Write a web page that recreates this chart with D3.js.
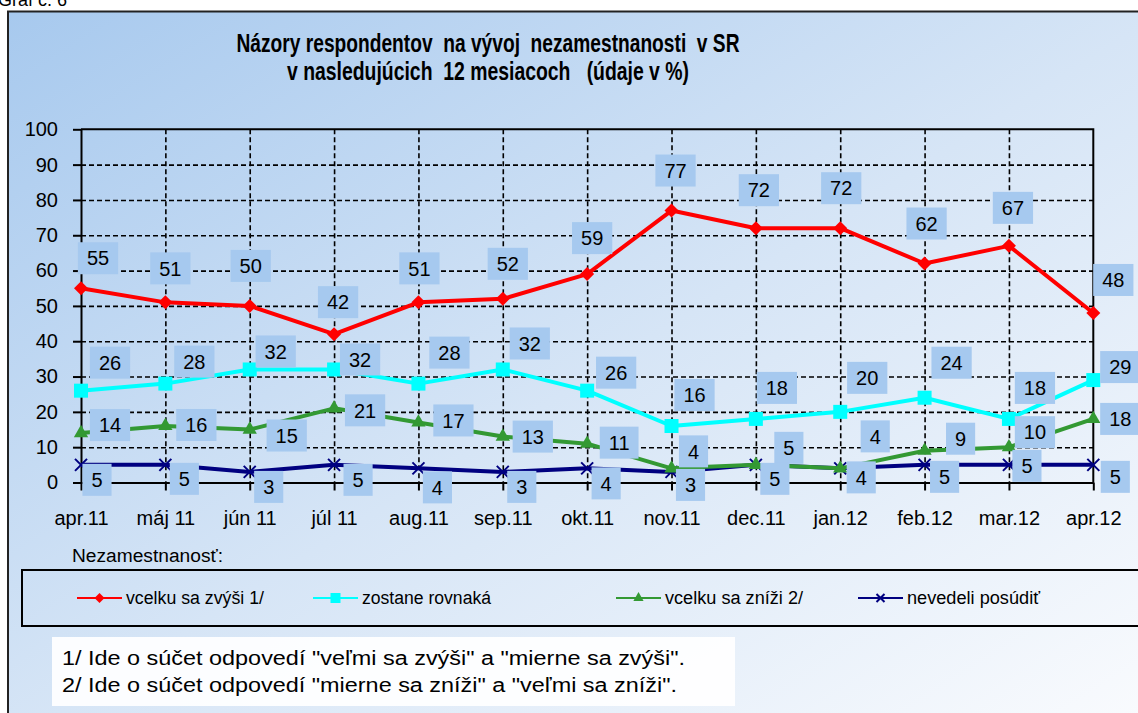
<!DOCTYPE html>
<html lang="sk">
<head>
<meta charset="UTF-8">
<title>Názory respondentov na vývoj nezamestnanosti v SR</title>
<script src="https://d3js.org/d3.v7.min.js"></script>
<style>
  body { margin: 0; background: #fff; }
  svg { display: block; font-family: "Liberation Sans", Arial, sans-serif; }
  text { white-space: pre; }
</style>
</head>
<body>
<svg id="chart" width="1138" height="713"></svg>
<script>
// data
const months = ["apr.11", "máj 11", "jún 11", "júl 11", "aug.11", "sep.11", "okt.11",
                "nov.11", "dec.11", "jan.12", "feb.12", "mar.12", "apr.12"];
const rise   = [55, 51, 50, 42, 51, 52, 59, 77, 72, 72, 62, 67, 48];
const same   = [26, 28, 32, 32, 28, 32, 26, 16, 18, 20, 24, 18, 29];
const fall   = [14, 16, 15, 21, 17, 13, 11, 4, 5, 4, 9, 10, 18];
const unsure = [5, 5, 3, 5, 4, 3, 4, 3, 5, 4, 5, 5, 5];
const yTicks = [0, 10, 20, 30, 40, 50, 60, 70, 80, 90, 100];
const seriesNames = ["vcelku sa zvýši 1/", "zostane rovnaká", "vcelku sa zníži 2/", "nevedeli posúdiť"];

const W = 1138, H = 713;
const svg = d3.select("#chart");

// background gradient
const defs = svg.append("defs");
const grad = defs.append("linearGradient").attr("id", "bg")
    .attr("x1", "0%").attr("y1", "0%").attr("x2", "100%").attr("y2", "100%");
grad.append("stop").attr("offset", "0%").attr("stop-color", "#a7c9ee");
grad.append("stop").attr("offset", "50%").attr("stop-color", "#d6e5f6");
grad.append("stop").attr("offset", "100%").attr("stop-color", "#fbfcfe");

// caption above the frame (mostly cut off, as in the source)
svg.append("text").attr("x", -2).attr("y", 6).attr("font-size", 18).text("Graf č. 6");

svg.append("rect")
    .attr("x", 8).attr("y", 11.5).attr("width", W + 20).attr("height", H + 20)
    .attr("fill", "url(#bg)").attr("stroke", "#222").attr("stroke-width", 2);

// title
svg.append("text").attr("x", 488).attr("y", 52).attr("text-anchor", "middle")
    .attr("font-size", 26).attr("font-weight", "bold")
    .attr("textLength", 503).attr("lengthAdjust", "spacingAndGlyphs")
    .text("Názory respondentov  na vývoj  nezamestnanosti  v SR");
svg.append("text").attr("x", 488).attr("y", 80).attr("text-anchor", "middle")
    .attr("font-size", 26).attr("font-weight", "bold")
    .attr("textLength", 402).attr("lengthAdjust", "spacingAndGlyphs")
    .text("v nasledujúcich  12 mesiacoch   (údaje v %)");

// scales
const x = d3.scalePoint().domain(months).range([81, 1093.3]);
const y = d3.scaleLinear().domain([0, 100]).range([482.5, 129.3]);

const plot = svg.append("g");

// horizontal dashed grid
plot.append("g")
    .attr("transform", "translate(81,0)")
    .call(d3.axisLeft(y).tickValues(yTicks.slice(1, -1)).tickSize(-(1093.3 - 81)).tickFormat(""))
    .call(g => g.select(".domain").remove())
    .call(g => g.selectAll("line").attr("stroke", "#000").attr("stroke-width", 1.6).attr("stroke-dasharray", "5,3"));

// vertical dashed grid
plot.append("g")
    .attr("transform", "translate(0,129.3)")
    .call(d3.axisTop(x).tickValues(months.slice(1, -1)).tickSize(-(482.5 - 129.3)).tickFormat(""))
    .call(g => g.select(".domain").remove())
    .call(g => g.selectAll("line").attr("stroke", "#000").attr("stroke-width", 1.6).attr("stroke-dasharray", "5,3"));

// plot border (top + right)
plot.append("path")
    .attr("d", `M81,${y(100)}H${x("apr.12")}V${y(0)}`)
    .attr("fill", "none").attr("stroke", "#000").attr("stroke-width", 2);

// y axis
const yAxis = plot.append("g")
    .attr("transform", "translate(81,0)")
    .call(d3.axisLeft(y).tickValues(yTicks).tickSize(8).tickPadding(14).tickSizeOuter(0));
yAxis.select(".domain").attr("stroke", "#000").attr("stroke-width", 2);
yAxis.selectAll("line").attr("stroke", "#000").attr("stroke-width", 2).attr("x2", -8);
yAxis.selectAll("text").attr("font-size", 20).attr("fill", "#000")
    .attr("font-family", "'Liberation Sans', Arial, sans-serif").attr("x", -23);

// x axis
const xAxis = plot.append("g")
    .attr("transform", `translate(0,${y(0)})`)
    .call(d3.axisBottom(x).tickSize(8).tickPadding(14).tickSizeOuter(0));
xAxis.select(".domain").attr("stroke", "#000").attr("stroke-width", 2);
xAxis.selectAll("line").attr("stroke", "#000").attr("stroke-width", 2);
xAxis.selectAll("text").attr("font-size", 20).attr("fill", "#000")
    .attr("font-family", "'Liberation Sans', Arial, sans-serif").attr("y", 28);

// series
const series = [
  { name: seriesNames[0], values: rise,   color: "#ff0000", marker: "diamond" },
  { name: seriesNames[1], values: same,   color: "#00ffff", marker: "square" },
  { name: seriesNames[2], values: fall,   color: "#339933", marker: "triangle" },
  { name: seriesNames[3], values: unsure, color: "#000080", marker: "x" }
];

function drawMarker(g, type, color, s) {
  if (type === "diamond") {
    g.append("path").attr("d", d3.symbol(d3.symbolSquare, s * s * 0.5)())
      .attr("transform", "rotate(45)").attr("fill", color);
  } else if (type === "square") {
    g.append("path").attr("d", d3.symbol(d3.symbolSquare, s * s)()).attr("fill", color);
  } else if (type === "triangle") {
    g.append("path").attr("d", d3.symbol(d3.symbolTriangle, s * s * 0.45)()).attr("fill", color);
  } else {
    const r = s / 2;
    g.append("path").attr("d", `M${-r},${-r}L${r},${r}M${-r},${r}L${r},${-r}`)
      .attr("stroke", color).attr("stroke-width", 2).attr("fill", "none");
  }
}

const line = d3.line().x((d, i) => x(months[i])).y(d => y(d));

// draw lines from bottom series up so red stays on top
[...series].reverse().forEach(s => {
  const g = plot.append("g");
  g.append("path").datum(s.values).attr("d", line)
    .attr("fill", "none").attr("stroke", s.color).attr("stroke-width", 4)
    .attr("stroke-linejoin", "round");
  s.values.forEach((v, i) => {
    const m = g.append("g").attr("transform", `translate(${x(months[i])},${y(v)})`);
    drawMarker(m, s.marker, s.color, s.marker === "x" ? 12 : 14);
  });
});

// data label placement, pixel nudges from each point
const labelNudge = [
  [[17,-30],[5,-34],[1,-40],[4,-32],[1,-34],[5,-35],[5,-36],[4,-40],[3,-38],[1,-40],[2,-40],[4,-38],[20,-33]],
  [[29,-28],[29,-22],[26,-18],[26,-10],[31,-31],[27,-26],[29,-18],[23,-31],[21,-31],[27,-34],[27,-35],[26,-31],[27,-13]],
  [[29,-8],[31,-1],[37,6],[31,2],[35,-2],[30,0],[32,-1],[22,-17],[33,-17],[35,-32],[36,-12],[26,-15],[27,0]],
  [[16,15],[19,14],[19,15],[24,15],[19,19],[19,15],[19,15],[19,13],[19,14],[21,9],[20,12],[18,1],[22,12]]
];

const labels = plot.append("g");
series.forEach((s, si) => {
  s.values.forEach((v, i) => {
    const [dx, dy] = labelNudge[si][i];
    const cx = x(months[i]) + dx, cy = y(v) + dy;
    const g = labels.append("g").attr("transform", `translate(${cx},${cy})`);
    const rect = g.append("rect").attr("fill", "#a6c9ef");
    const t = g.append("text").attr("text-anchor", "middle").attr("dy", "0.36em")
      .attr("font-size", 20).attr("fill", "#000").text(v);
    const w = t.node().getComputedTextLength() + 18;
    rect.attr("x", -w / 2).attr("y", -16).attr("width", w).attr("height", 32);
  });
});

// legend
svg.append("text").attr("x", 72).attr("y", 562).attr("font-size", 18)
    .attr("textLength", 151).attr("lengthAdjust", "spacingAndGlyphs").text("Nezamestnanosť:");
svg.append("rect").attr("x", 22).attr("y", 570).attr("width", W).attr("height", 56)
    .attr("fill", "none").attr("stroke", "#000").attr("stroke-width", 2);

const legendX = [77, 313, 616, 858];
const legendW = [138, 129, 138, 133];
series.forEach((s, i) => {
  const g = svg.append("g").attr("transform", `translate(${legendX[i]},598)`);
  g.append("line").attr("x1", 0).attr("x2", 45).attr("stroke", s.color).attr("stroke-width", 2);
  const m = g.append("g").attr("transform", "translate(22.5,0)");
  drawMarker(m, s.marker, s.color, s.marker === "x" ? 8 : 10);
  g.append("text").attr("x", 49).attr("y", 6).attr("font-size", 18)
    .attr("textLength", legendW[i]).attr("lengthAdjust", "spacingAndGlyphs").text(s.name);
});

// footnotes
svg.append("rect").attr("x", 52).attr("y", 637).attr("width", 683).attr("height", 69)
    .attr("fill", "#fff").attr("opacity", 0.92);
svg.append("text").attr("x", 62).attr("y", 665).attr("font-size", 20)
    .attr("textLength", 623).attr("lengthAdjust", "spacingAndGlyphs")
    .text("1/ Ide o súčet odpovedí \"veľmi sa zvýši\" a \"mierne sa zvýši\".");
svg.append("text").attr("x", 62).attr("y", 692).attr("font-size", 20)
    .attr("textLength", 615).attr("lengthAdjust", "spacingAndGlyphs")
    .text("2/ Ide o súčet odpovedí \"mierne sa zníži\" a \"veľmi sa zníži\".");
</script>
</body>
</html>
